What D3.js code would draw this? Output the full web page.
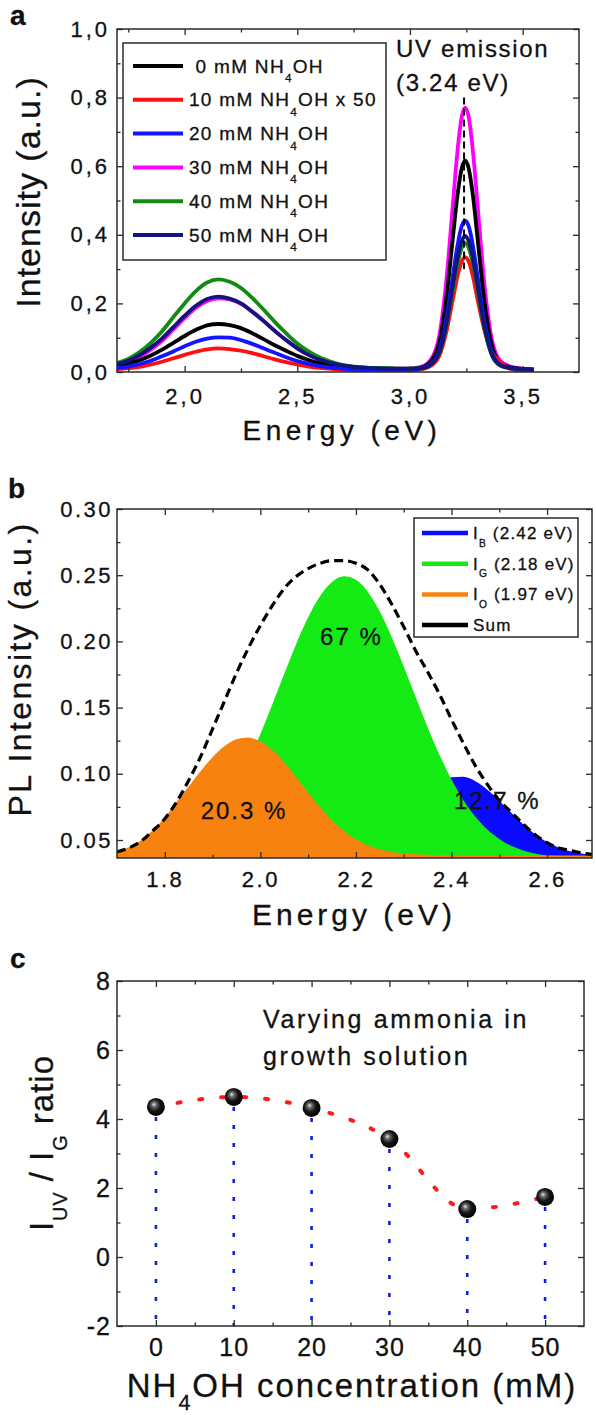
<!DOCTYPE html>
<html><head><meta charset="utf-8">
<script src="https://cdn.jsdelivr.net/npm/d3@7"></script>
<style>
body{margin:0;background:#fff;}
svg{display:block;font-family:"Liberation Sans",Arial,Helvetica,sans-serif;}
svg text{stroke:#111;stroke-width:0.3px;}
</style></head><body>
<svg id="chart" width="596" height="1415"></svg>
<script>
// ---------------- DATA: panel a (PL spectra) ----------------
const energyA = [1.70,1.75,1.80,1.85,1.90,1.95,2.00,2.05,2.10,2.15,2.20,2.25,2.30,2.35,2.40,2.45,2.50,2.55,2.60,2.65,2.70,2.75,2.80,2.85,2.90,2.95,3.00,
  3.05,3.10,3.13,3.16,3.19,3.21,3.23,3.245,3.26,3.28,3.30,3.33,3.36,3.40,3.45,3.50,3.55];
const int0  = [0.018,0.024,0.034,0.048,0.065,0.085,0.105,0.123,0.136,0.140,0.137,0.128,0.113,0.096,0.078,0.062,0.047,0.035,0.026,0.020,0.016,0.013,0.011,0.010,0.010,0.009,0.009,
  0.013,0.037,0.086,0.207,0.389,0.511,0.595,0.616,0.595,0.511,0.389,0.207,0.086,0.027,0.013,0.009,0.007];
const int10 = [0.008,0.011,0.015,0.022,0.030,0.040,0.050,0.059,0.066,0.069,0.067,0.062,0.055,0.046,0.037,0.029,0.022,0.016,0.012,0.009,0.007,0.006,0.005,0.005,0.005,0.005,0.005,
  0.008,0.021,0.047,0.113,0.211,0.277,0.323,0.334,0.323,0.277,0.211,0.123,0.062,0.030,0.008,0.004,0.004];
const int20 = [0.012,0.016,0.023,0.033,0.046,0.060,0.075,0.088,0.097,0.101,0.100,0.093,0.082,0.069,0.056,0.043,0.032,0.024,0.017,0.013,0.010,0.008,0.007,0.007,0.006,0.006,0.006,
  0.011,0.028,0.063,0.149,0.279,0.366,0.426,0.441,0.426,0.366,0.279,0.149,0.063,0.021,0.011,0.008,0.007];
const int30 = [0.020,0.029,0.044,0.065,0.091,0.124,0.157,0.187,0.207,0.215,0.212,0.199,0.176,0.149,0.120,0.093,0.069,0.050,0.036,0.026,0.019,0.015,0.013,0.011,0.010,0.010,0.010,
  0.015,0.044,0.106,0.258,0.486,0.639,0.745,0.771,0.745,0.639,0.486,0.258,0.106,0.033,0.015,0.010,0.007];
const int40 = [0.026,0.038,0.058,0.085,0.119,0.160,0.200,0.236,0.261,0.270,0.263,0.245,0.216,0.182,0.146,0.113,0.083,0.060,0.042,0.030,0.021,0.016,0.013,0.012,0.011,0.010,0.010,
  0.010,0.025,0.054,0.128,0.238,0.312,0.363,0.376,0.363,0.312,0.238,0.128,0.054,0.019,0.010,0.007,0.006];
const int50 = [0.023,0.033,0.049,0.071,0.098,0.131,0.164,0.193,0.213,0.220,0.214,0.200,0.176,0.149,0.120,0.093,0.069,0.050,0.036,0.026,0.019,0.015,0.013,0.011,0.010,0.010,0.010,
  0.011,0.026,0.057,0.134,0.251,0.329,0.383,0.396,0.383,0.329,0.251,0.134,0.057,0.020,0.011,0.008,0.007];
const legendLabelsA = [" 0 mM NH_4OH","10 mM NH_4OH x 50","20 mM NH_4OH","30 mM NH_4OH","40 mM NH_4OH","50 mM NH_4OH"];
const uvPeak = 3.24;
const xTicksA = [2.0,2.5,3.0,3.5], xMinorA = [1.75,2.25,2.75,3.25];
const yTicksA = [0,0.2,0.4,0.6,0.8,1.0], yMinorA = [0.1,0.3,0.5,0.7,0.9];

// ---------------- DATA: panel b (Gaussian deconvolution) ----------------
const energyB = [1.700,1.725,1.750,1.775,1.800,1.825,1.850,1.875,1.900,1.925,1.950,1.975,2.000,2.025,2.050,2.075,2.100,2.125,2.150,2.175,2.200,
  2.225,2.250,2.275,2.300,2.325,2.350,2.375,2.400,2.425,2.450,2.475,2.500,2.525,2.550,2.575,2.600,2.625,2.650,2.675,2.700];
const compO = [0.0410,0.0440,0.0490,0.0565,0.0660,0.0780,0.0894,0.1011,0.1118,0.1202,0.1255,0.1268,0.1238,0.1172,0.1077,0.0965,0.0848,0.0737,0.0640,0.0560,0.0498,
  0.0454,0.0424,0.0404,0.0393,0.0386,0.0382,0.0380,0.0379,0.0378,0.0378,0.0378,0.0378,0.0378,0.0378,0.0378,0.0378,0.0378,0.0378,0.0378,0.0378];
const compG = [0.0378,0.0379,0.0383,0.0394,0.0415,0.0447,0.0494,0.0560,0.0650,0.0768,0.0917,0.1095,0.1300,0.1524,0.1756,0.1981,0.2182,0.2343,0.2449,0.2492,0.2466,
  0.2374,0.2225,0.2032,0.1811,0.1580,0.1352,0.1142,0.0957,0.0801,0.0676,0.0579,0.0508,0.0456,0.0421,0.0398,0.0383,0.0379,0.0378,0.0378,0.0378];
const compB = [0.0375,0.0375,0.0375,0.0375,0.0375,0.0375,0.0375,0.0375,0.0375,0.0375,0.0375,0.0375,0.0375,0.0375,0.0375,0.0375,0.0379,0.0384,0.0393,0.0409,0.0435,
  0.0475,0.0530,0.0602,0.0687,0.0779,0.0865,0.0933,0.0973,0.0977,0.0944,0.0880,0.0797,0.0705,0.0618,0.0543,0.0484,0.0442,0.0413,0.0396,0.0385];
const sumB  = [0.041,0.044,0.049,0.057,0.066,0.079,0.095,0.113,0.134,0.155,0.176,0.195,0.212,0.227,0.240,0.249,0.255,0.259,0.261,0.261,0.259,
  0.254,0.243,0.228,0.211,0.193,0.177,0.160,0.141,0.123,0.106,0.092,0.080,0.071,0.062,0.054,0.048,0.044,0.042,0.040,0.039];
const legendLabelsB = ["I_B (2.42 eV)","I_G (2.18 eV)","I_O (1.97 eV)","Sum"];
const percentLabelsB = [{t:"67 %",e:2.125,v:0.197},{t:"20.3 %",e:1.875,v:0.0655},{t:"12.7 %",e:2.405,v:0.0735}];
const xTicksB = [1.8,2.0,2.2,2.4,2.6], xMinorB = [1.9,2.1,2.3,2.5];
const yTicksB = [0.05,0.10,0.15,0.20,0.25,0.30], yMinorB = [0.075,0.125,0.175,0.225,0.275];

// ---------------- DATA: panel c (UV / G ratio) ----------------
const concC  = [0,10,20,30,40,50];
const ratioC = [4.35,4.64,4.32,3.42,1.39,1.74];
const xTicksC = [0,10,20,30,40,50], xMinorC = [5,15,25,35,45];
const yTicksC = [-2,0,2,4,6,8], yMinorC = [-1,1,3,5,7];

// ---------------- helpers ----------------
const svg = d3.select("#chart");
const AX = "#2b2b2b";

function rich(t, str, fs, subRatio, shiftRatio){
  const parts=[]; const re=/_\{([^}]*)\}|_(.)/g; let last=0,m;
  while((m=re.exec(str))){ if(m.index>last) parts.push({t:str.slice(last,m.index),sub:false}); parts.push({t:m[1]||m[2],sub:true}); last=re.lastIndex; }
  if(last<str.length) parts.push({t:str.slice(last),sub:false});
  let cur=0;
  parts.forEach(p=>{
    const target=p.sub?fs*shiftRatio:0;
    const ts=t.append("tspan").text(p.t).attr("dy",target-cur);
    if(p.sub) ts.attr("font-size",fs*subRatio);
    cur=target;
  });
  return t;
}

function axes(g, x, y, o){
  const [x0,x1]=x.range(), [yb,yt]=y.range();
  const styleAx = s=>{ s.select(".domain").remove(); s.selectAll("line").attr("stroke",AX).attr("stroke-width",1.3);
    s.selectAll("text").attr("fill","#111").attr("font-family",null).attr("font-size",o.fs).style("letter-spacing",o.ls+"px"); };
  g.append("g").attr("transform",`translate(0,${yb})`).call(d3.axisBottom(x).tickValues(o.xt).tickSize(-6).tickPadding(o.xpad).tickFormat(o.xf)).call(styleAx);
  g.append("g").attr("transform",`translate(0,${yb})`).call(d3.axisBottom(x).tickValues(o.xm).tickSize(-3.5).tickFormat("")).call(styleAx);
  g.append("g").attr("transform",`translate(0,${yt})`).call(d3.axisTop(x).tickValues(o.xt).tickSize(-6).tickFormat("")).call(styleAx);
  g.append("g").attr("transform",`translate(0,${yt})`).call(d3.axisTop(x).tickValues(o.xm).tickSize(-3.5).tickFormat("")).call(styleAx);
  g.append("g").attr("transform",`translate(${x0},0)`).call(d3.axisLeft(y).tickValues(o.yt).tickSize(-6).tickPadding(o.ypad).tickFormat(o.yf)).call(styleAx);
  g.append("g").attr("transform",`translate(${x0},0)`).call(d3.axisLeft(y).tickValues(o.ym).tickSize(-3.5).tickFormat("")).call(styleAx);
  g.append("g").attr("transform",`translate(${x1},0)`).call(d3.axisRight(y).tickValues(o.yt).tickSize(-6).tickFormat("")).call(styleAx);
  g.append("g").attr("transform",`translate(${x1},0)`).call(d3.axisRight(y).tickValues(o.ym).tickSize(-3.5).tickFormat("")).call(styleAx);
  g.append("rect").attr("x",x0).attr("y",yt).attr("width",x1-x0).attr("height",yb-yt)
    .attr("fill","none").attr("stroke",AX).attr("stroke-width",1.5);
}
function panelLetter(s,x,y){ svg.append("text").attr("x",x).attr("y",y).attr("font-size",28).attr("font-weight","bold").attr("fill","#111").text(s); }
function label(g,str,x,y,fs,ls,rot,sub,shift){
  const t=g.append("text").attr("transform",`translate(${x},${y})`+(rot?` rotate(${rot})`:""))
    .attr("text-anchor","middle").attr("font-size",fs).attr("fill","#111").style("letter-spacing",ls+"px");
  return rich(t,str,fs,sub||0.6,shift||0.4);
}

// ================= PANEL A =================
{
  const g=svg.append("g");
  const x=d3.scaleLinear().domain([1.7,3.75]).range([117,579]);
  const y=d3.scaleLinear().domain([0,1]).range([372,29]);
  svg.append("clipPath").attr("id","clipA").append("rect").attr("x",117).attr("y",29).attr("width",462).attr("height",343);
  const series=[
    {v:int30,c:"#ff00ff"},{v:int0,c:"#000000"},{v:int10,c:"#ff1010"},
    {v:int40,c:"#138a13"},{v:int20,c:"#1414ff"},{v:int50,c:"#14147e"}];
  const line=d3.line().x((d,i)=>x(energyA[i])).y(d=>y(d)).curve(d3.curveMonotoneX);
  const pg=g.append("g").attr("clip-path","url(#clipA)");
  series.forEach(s=>pg.append("path").attr("d",line(s.v)).attr("fill","none").attr("stroke",s.c).attr("stroke-width",3.8).attr("stroke-linejoin","round"));
  pg.append("line").attr("x1",x(uvPeak)).attr("x2",x(uvPeak)).attr("y1",y(0.8)).attr("y2",y(0.3))
    .attr("stroke","#000").attr("stroke-width",2).attr("stroke-dasharray","7,4");
  axes(g,x,y,{xt:xTicksA,xm:xMinorA,yt:yTicksA,ym:yMinorA,xf:d=>d3.format(".1f")(d).replace(".",","),yf:d=>d3.format(".1f")(d).replace(".",","),fs:22,ls:3,xpad:16,ypad:7});
  const lg=g.append("g");
  lg.append("rect").attr("x",123).attr("y",43).attr("width",263).attr("height",217).attr("fill","#fff").attr("stroke",AX).attr("stroke-width",1.5);
  const colsA=["#000000","#ff1010","#1414ff","#ff00ff","#138a13","#14147e"];
  legendLabelsA.forEach((lab,i)=>{
    const yy=66+i*33.8;
    lg.append("line").attr("x1",133).attr("x2",183).attr("y1",yy).attr("y2",yy).attr("stroke",colsA[i]).attr("stroke-width",4);
    const t=lg.append("text").attr("x",189).attr("y",yy+6.5).attr("font-size",19).attr("fill","#111").style("letter-spacing","1.3px").style("white-space","pre");
    rich(t,lab,19,0.62,0.5);
  });
  g.append("text").attr("x",396).attr("y",57).attr("font-size",24).attr("fill","#111").style("letter-spacing","1.7px").text("UV emission");
  g.append("text").attr("x",396).attr("y",91).attr("font-size",24).attr("fill","#111").style("letter-spacing","1.7px").text("(3.24 eV)");
  label(g,"Energy (eV)",342,440,28,4.5,0);
  label(g,"Intensity (a.u.)",40,192,34,1,-90);
  panelLetter("a",10,25);
}

// ================= PANEL B =================
{
  const g=svg.append("g");
  const x=d3.scaleLinear().domain([1.7,2.694]).range([117,592]);
  const y=d3.scaleLinear().domain([0.0364,0.30]).range([858,509]);
  svg.append("clipPath").attr("id","clipB").append("rect").attr("x",117).attr("y",509).attr("width",475).attr("height",349);
  const pg=g.append("g").attr("clip-path","url(#clipB)");
  const area=(vals,base)=>d3.area().x((d,i)=>x(energyB[i])).y0(y(base)).y1(d=>y(d)).curve(d3.curveMonotoneX)(vals);
  pg.append("path").attr("d",area(compB,0.0375)).attr("fill","#0a0aff");
  pg.append("path").attr("d",area(compG,0.0364)).attr("fill","#14eb14");
  pg.append("path").attr("d",area(compO,0.0375)).attr("fill","#f7820f").attr("stroke","#f7820f").attr("stroke-width",1.5);
  pg.append("path").attr("d",d3.line().x((d,i)=>x(energyB[i])).y(d=>y(d)).curve(d3.curveMonotoneX)(sumB))
    .attr("fill","none").attr("stroke","#000").attr("stroke-width",3.2).attr("stroke-dasharray","9,5");
  percentLabelsB.forEach(p=>g.append("text").attr("x",x(p.e)).attr("y",y(p.v)).attr("font-size",24).attr("fill","#111").style("letter-spacing","2px").text(p.t));
  axes(g,x,y,{xt:xTicksB,xm:xMinorB,yt:yTicksB,ym:yMinorB,xf:d3.format(".1f"),yf:d3.format(".2f"),fs:22,ls:2.5,xpad:13,ypad:4});
  const lg=g.append("g");
  lg.append("rect").attr("x",414).attr("y",518).attr("width",164).attr("height",119).attr("fill","#fff").attr("stroke",AX).attr("stroke-width",1.5);
  const colsB=["#0a0aff","#14eb14","#f7820f","#000000"];
  legendLabelsB.forEach((lab,i)=>{
    const yy=533+i*30.7;
    lg.append("line").attr("x1",422).attr("x2",468).attr("y1",yy).attr("y2",yy).attr("stroke",colsB[i]).attr("stroke-width",4.5);
    const t=lg.append("text").attr("x",473).attr("y",yy+6).attr("font-size",17).attr("fill","#111").style("letter-spacing","1.2px");
    rich(t,lab,17,0.6,0.45);
  });
  label(g,"Energy (eV)",354,925,30,4,0);
  label(g,"PL Intensity (a.u.)",31,669,32,2.4,-90);
  panelLetter("b",8,498);
}

// ================= PANEL C =================
{
  const g=svg.append("g");
  const x=d3.scaleLinear().domain([-5,55]).range([117,584]);
  const y=d3.scaleLinear().domain([-2,8]).range([1326,981]);
  const defs=svg.append("defs");
  const rg=defs.append("radialGradient").attr("id","ball").attr("cx","45%").attr("cy","45%").attr("r","60%").attr("fx","38%").attr("fy","35%");
  rg.append("stop").attr("offset","0%").attr("stop-color","#e8e8e8");
  rg.append("stop").attr("offset","22%").attr("stop-color","#6a6a6a");
  rg.append("stop").attr("offset","55%").attr("stop-color","#141414");
  rg.append("stop").attr("offset","100%").attr("stop-color","#000");
  concC.forEach((c,i)=>g.append("line").attr("x1",x(c)).attr("x2",x(c)).attr("y1",y(ratioC[i])+10).attr("y2",y(-2))
    .attr("stroke","#1020e0").attr("stroke-width",2.6).attr("stroke-dasharray","4,14"));
  g.append("path").attr("d",d3.line().x((d,i)=>x(concC[i])).y(d=>y(d)).curve(d3.curveMonotoneX)(ratioC))
    .attr("fill","none").attr("stroke","#ff1a1a").attr("stroke-width",4).attr("stroke-linecap","round").attr("stroke-dasharray","3,19");
  axes(g,x,y,{xt:xTicksC,xm:xMinorC,yt:yTicksC,ym:yMinorC,xf:d=>String(d),yf:d=>String(d),fs:25,ls:1,xpad:12,ypad:6});
  concC.forEach((c,i)=>g.append("circle").attr("cx",x(c)).attr("cy",y(ratioC[i])).attr("r",9).attr("fill","url(#ball)"));
  g.append("text").attr("x",263).attr("y",1028).attr("font-size",25).attr("fill","#111").style("letter-spacing","2.6px").text("Varying ammonia in");
  g.append("text").attr("x",263).attr("y",1065).attr("font-size",25).attr("fill","#111").style("letter-spacing","2.6px").text("growth solution");
  label(g,"NH_4OH concentration (mM)",352,1397,33,2,0,0.65,0.4);
  label(g,"I_{UV} / I_G ratio",53,1143,33,1,-90,0.6,0.42);
  panelLetter("c",10,968);
}
</script></body></html>
